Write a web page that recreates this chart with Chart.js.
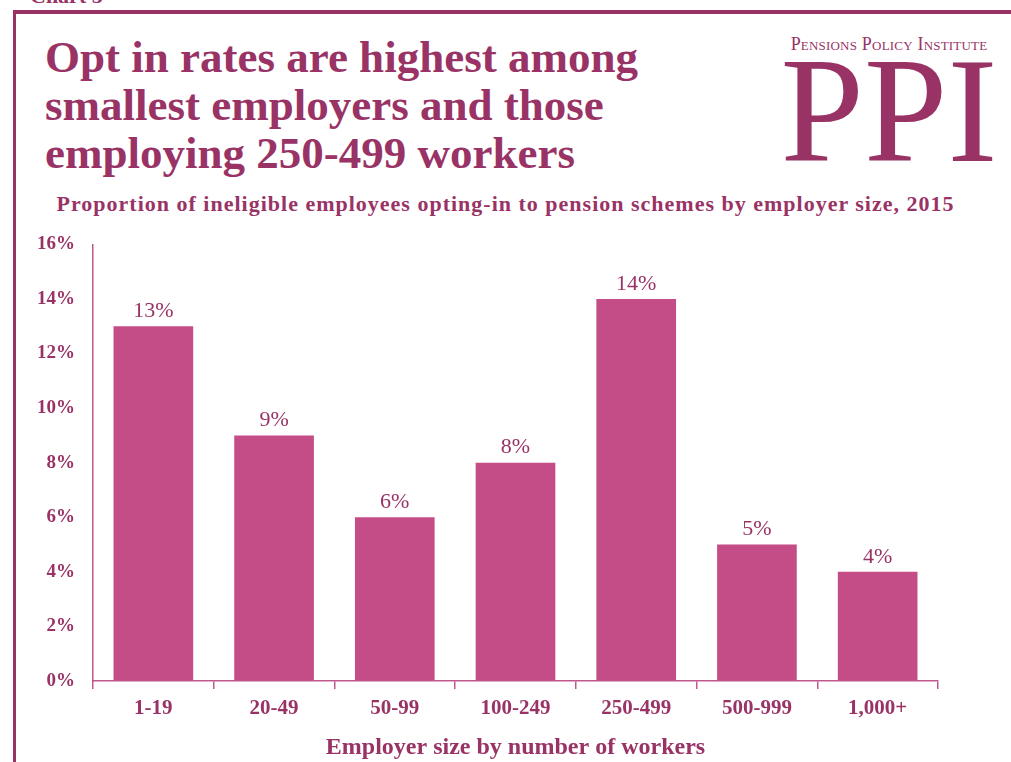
<!DOCTYPE html>
<html lang="en">
<head>
  <meta charset="UTF-8">
  <title>Chart 5 | PPI</title>
  <script src="https://cdn.jsdelivr.net/npm/chart.js"></script>
  <style>
    body { margin: 0; width: 1011px; height: 762px; overflow: hidden; background: #fff; position: relative; font-family: "Liberation Serif", serif; color: #993366; }
    .numero { position: absolute; left: 30px; top: -17px; font-weight: bold; font-size: 22px; }
    .moldura { position: absolute; left: 13px; top: 10px; width: 1011px; height: 800px; border-top: 4px solid #993366; border-left: 3px solid #993366; }
    .titulo { position: absolute; left: 45px; top: 33px; font-weight: bold; font-size: 45px; line-height: 48px; margin: 0; }
    .subtitulo { position: absolute; left: 0; width: 1011px; top: 191px; text-align: center; font-weight: bold; font-size: 22px; letter-spacing: 1px; margin: 0; }
    .logo { position: absolute; left: 775px; top: 34px; width: 228px; text-align: center; }
    .logo .nome { font-size: 18px; font-variant: small-caps; letter-spacing: 0.2px; }
    .logo .sigla { font-size: 150px; line-height: 114px; margin-top: -2px; letter-spacing: 0px; }
    #grafico { position: absolute; left: 16px; top: 215px; }
  </style>
</head>
<body>
  <div class="numero">Chart 5</div>
  <div class="moldura"></div>
  <h1 class="titulo">Opt in rates are highest among<br>smallest employers and those<br>employing 250-499 workers</h1>
  <div class="logo">
    <div class="nome">Pensions Policy Institute</div>
    <div class="sigla">PPI</div>
  </div>
  <h2 class="subtitulo">Proportion of ineligible employees opting-in to pension schemes by employer size, 2015</h2>
  <canvas id="grafico" width="995" height="547"></canvas>

<script>
  // dados
  const categorias = ['1-19', '20-49', '50-99', '100-249', '250-499', '500-999', '1,000+'];
  const taxas = [13, 9, 6, 8, 14, 5, 4];
  const ticksY = [0, 2, 4, 6, 8, 10, 12, 14, 16];

  const corTexto = '#993366';
  const corBarra = '#c44d87';
  const corEixo = '#c0588e';

  // escreve o valor em cima de cada barra
  const rotulos = {
    id: 'rotulos',
    afterDatasetsDraw(chart) {
      const ctx = chart.ctx;
      const meta = chart.getDatasetMeta(0);
      ctx.save();
      ctx.fillStyle = corTexto;
      ctx.font = '22px "Liberation Serif", serif';
      ctx.textAlign = 'center';
      ctx.textBaseline = 'bottom';
      meta.data.forEach(function (barra, i) {
        ctx.fillText(taxas[i] + '%', barra.x, barra.y - 4);
      });
      ctx.restore();
    }
  };

  new Chart(document.getElementById('grafico'), {
    type: 'bar',
    data: {
      labels: categorias,
      datasets: [{
        data: taxas,
        backgroundColor: corBarra,
        borderWidth: 0,
        categoryPercentage: 1,
        barPercentage: 0.66
      }]
    },
    options: {
      responsive: false,
      animation: false,
      layout: { padding: { top: 2, right: 73, left: 0, bottom: 0 } },
      plugins: { legend: { display: false }, tooltip: { enabled: false } },
      scales: {
        y: {
          min: 0,
          max: 16,
          afterFit(escala) { escala.width = 77; },
          afterBuildTicks(escala) { escala.ticks = ticksY.map(v => ({ value: v })); },
          border: { display: true, color: corEixo, width: 1.5 },
          grid: { drawOnChartArea: false, drawTicks: false },
          ticks: {
            padding: 18,
            color: corTexto,
            font: { family: '"Liberation Serif", serif', size: 19, weight: 'bold' },
            callback: v => v + '%'
          }
        },
        x: {
          afterFit(escala) { escala.height = 81; },
          border: { display: true, color: corEixo, width: 1.5 },
          grid: { drawOnChartArea: false, tickLength: 8, color: corEixo, lineWidth: 1.5, offset: true },
          ticks: {
            padding: 7,
            color: corTexto,
            font: { family: '"Liberation Serif", serif', size: 21, weight: 'bold' }
          },
          title: {
            display: true,
            text: 'Employer size by number of workers',
            color: corTexto,
            font: { family: '"Liberation Serif", serif', size: 24, weight: 'bold' },
            padding: { top: 8, bottom: 0 }
          }
        }
      }
    },
    plugins: [rotulos]
  });
</script>
</body>
</html>
